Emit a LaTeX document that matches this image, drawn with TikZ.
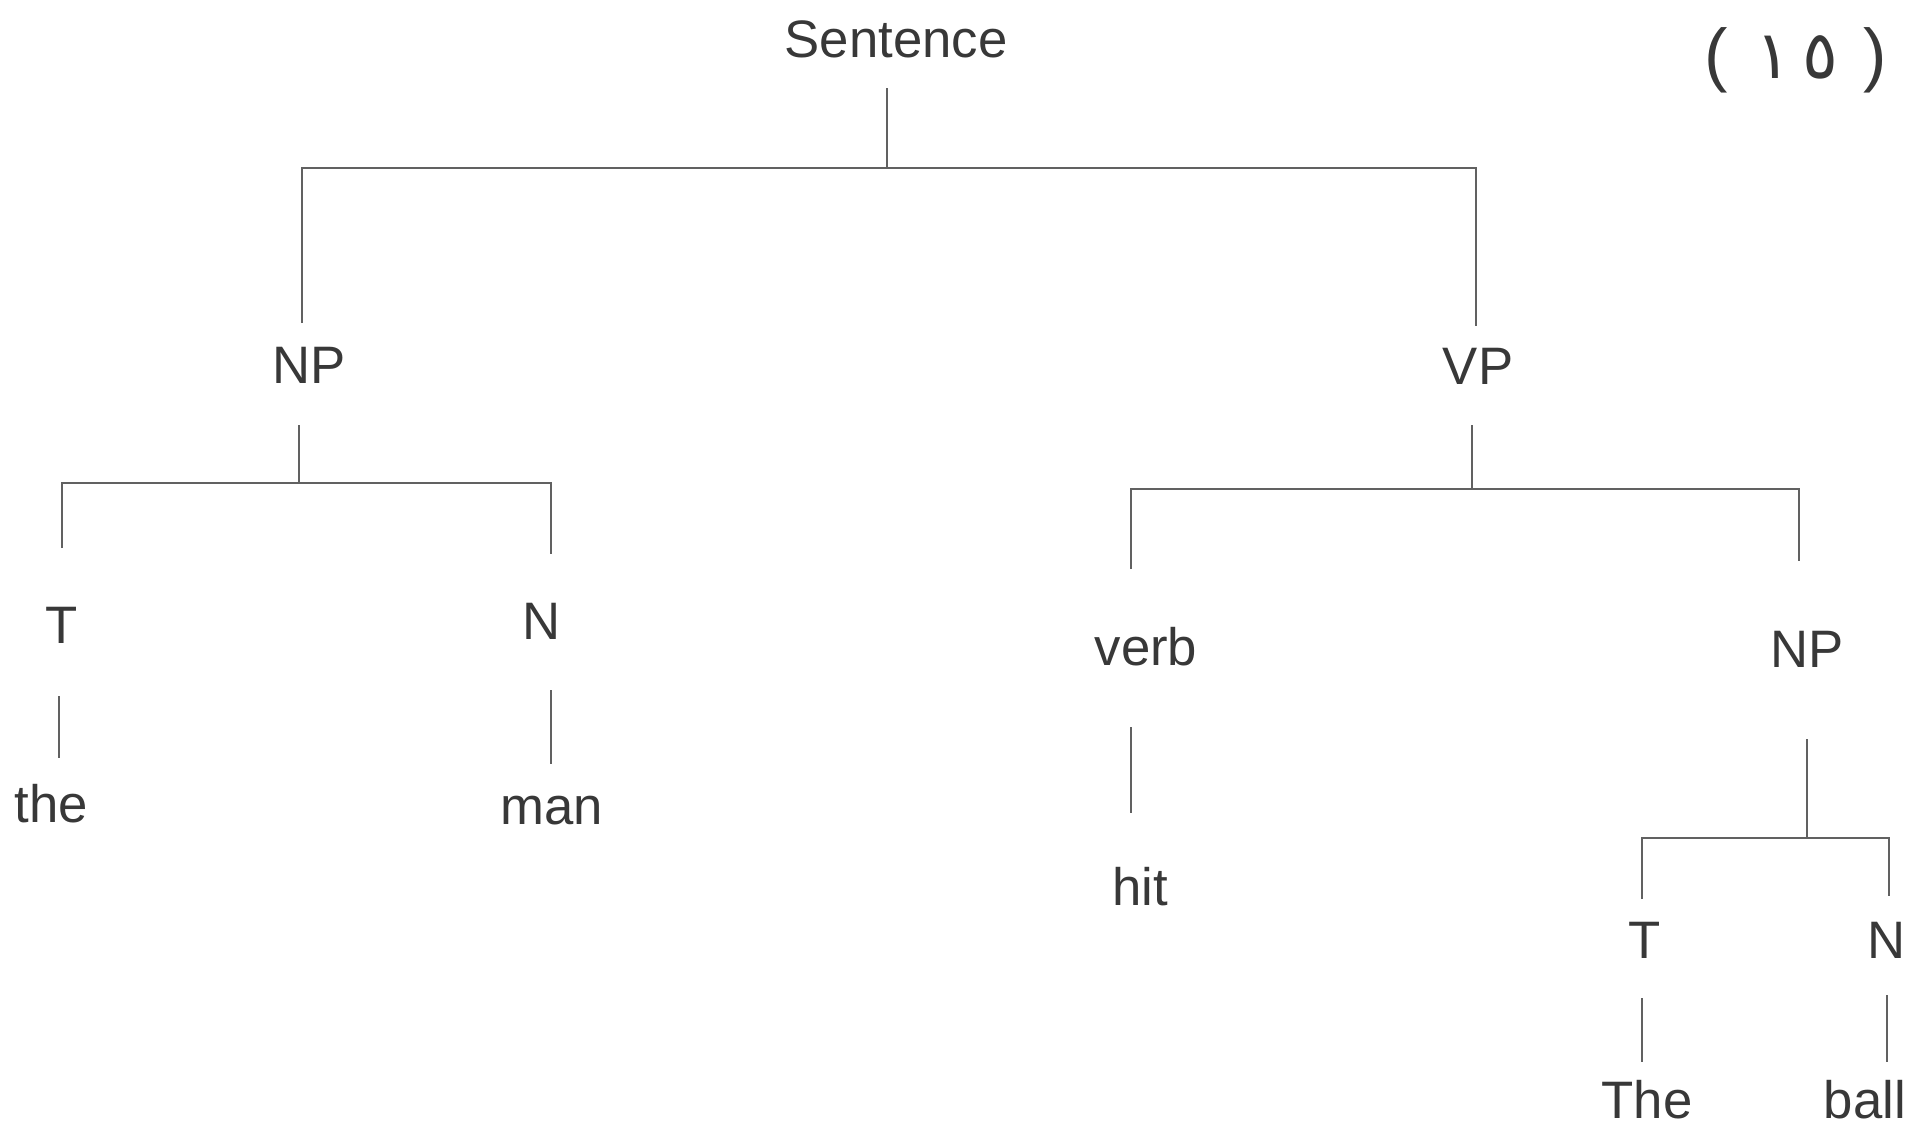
\documentclass[tikz,border=0pt]{standalone}
\usepackage{fontspec}
\setmainfont{Liberation Sans}
\newfontfamily\arabicfont[Script=Arabic]{DejaVu Sans}
\tikzstyle{word} = [font=\fontsize{15}{18}\selectfont, text=black!78, inner sep=1pt]
\tikzstyle{line} = [draw, black!62, line width=0.7pt]

\begin{document}
\begin{tikzpicture}
  \useasboundingbox (0,0) rectangle (19.32,-11.33);

  \node [word] (sentence) at (8.96,-0.39) {Sentence};
  \node [word, font=\fontsize{20}{24}\selectfont] (number) at (17.96,-0.60) {(\hspace{0.27cm}{\fontsize{19}{22}\arabicfont ١\hspace{0.12cm}٥}\hspace{0.25cm})};

  \node [word] (np)  at (3.09,-3.65) {NP};
  \node [word] (vp)  at (14.78,-3.66) {VP};

  \node [word] (t)   at (0.62,-6.25) {T};
  \node [word] (n)   at (5.42,-6.21) {N};
  \node [word] (the) at (0.51,-8.04) {the};
  \node [word] (man) at (5.52,-8.11) {man};

  \node [word] (verb) at (11.46,-6.47) {verb};
  \node [word] (hit)  at (11.40,-8.87) {hit};
  \node [word] (np2)  at (18.07,-6.49) {NP};

  \node [word] (t2)   at (16.45,-9.40) {T};
  \node [word] (n2)   at (18.87,-9.40) {N};
  \node [word] (the2) at (16.47,-11.00) {The};
  \node [word] (ball) at (18.65,-11.00) {ball};

  % sentence
  \coordinate (s-top)   at (8.87,-0.88);
  \coordinate (s-join)  at (8.87,-1.68);
  \coordinate (np-end)  at (3.02,-3.23);
  \coordinate (vp-end)  at (14.76,-3.26);
  \path [line] (s-top) -- (s-join);
  \path [line] (np-end) |- (s-join) -| (vp-end);

  % NP -> T N
  \coordinate (np-top)  at (2.99,-4.25);
  \coordinate (np-join) at (2.99,-4.83);
  \coordinate (t-end)   at (0.62,-5.48);
  \coordinate (n-end)   at (5.51,-5.54);
  \path [line] (np-top) -- (np-join);
  \path [line] (t-end) |- (np-join) -| (n-end);
  \coordinate (t-low)   at (0.59,-6.96);
  \coordinate (the-top) at (0.59,-7.58);
  \coordinate (n-low)   at (5.51,-6.90);
  \coordinate (man-top) at (5.51,-7.64);
  \path [line] (t-low) -- (the-top);
  \path [line] (n-low) -- (man-top);

  % VP -> verb NP
  \coordinate (vp-top)  at (14.72,-4.25);
  \coordinate (vp-join) at (14.72,-4.89);
  \coordinate (verb-end) at (11.31,-5.69);
  \coordinate (np2-end) at (17.99,-5.61);
  \path [line] (vp-top) -- (vp-join);
  \path [line] (verb-end) |- (vp-join) -| (np2-end);
  \coordinate (verb-low) at (11.31,-7.27);
  \coordinate (hit-top)  at (11.31,-8.13);
  \path [line] (verb-low) -- (hit-top);

  % NP -> T N
  \coordinate (np2-top)  at (18.07,-7.39);
  \coordinate (np2-join) at (18.07,-8.38);
  \coordinate (t2-end)   at (16.42,-8.99);
  \coordinate (n2-end)   at (18.89,-8.96);
  \path [line] (np2-top) -- (np2-join);
  \path [line] (t2-end) |- (np2-join) -| (n2-end);
  \coordinate (t2-low)   at (16.42,-9.98);
  \coordinate (the2-top) at (16.42,-10.62);
  \coordinate (n2-low)   at (18.87,-9.95);
  \coordinate (ball-top) at (18.87,-10.62);
  \path [line] (t2-low) -- (the2-top);
  \path [line] (n2-low) -- (ball-top);
\end{tikzpicture}
\end{document}
